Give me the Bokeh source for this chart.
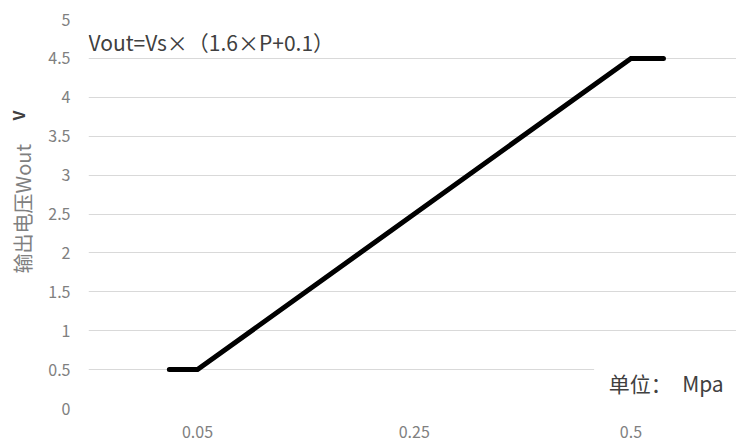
from bokeh.plotting import figure
from bokeh.layouts import row
from bokeh.models import Range1d, FixedTicker, Label, BoxAnnotation
from bokeh.embed import file_html
from bokeh.resources import INLINE

# Data
category_labels = ["0.05", "0.25", "0.5"]
category_pos = [1, 2, 3]
pressure_pos = [0.87, 1.0, 3.0, 3.15]   # position along categorical pressure axis
vout = [0.5, 0.5, 4.5, 4.5]
y_ticks = [0, 0.5, 1, 1.5, 2, 2.5, 3, 3.5, 4, 4.5, 5]

FONT = "Noto Sans CJK SC"
SIDE_W = 40

# narrow strip holding the rotated y-axis title
side = figure(width=SIDE_W, height=442, output_backend="svg", toolbar_location=None,
              x_range=Range1d(0, SIDE_W), y_range=Range1d(0, 442),
              x_axis_type=None, y_axis_type=None, min_border=0)
side.outline_line_color = None
side.grid.grid_line_color = None
side.background_fill_color = "white"
side.border_fill_color = "white"
side.add_layout(Label(x=22, y=227, text="输出电压Wout", text_font=FONT,
                      text_font_size="20px", text_color="#808080", angle=1.5708,
                      text_align="center", text_baseline="middle"))
side.add_layout(Label(x=17, y=333, text="V", text_font=FONT,
                      text_font_size="16px", text_font_style="bold", text_color="#404040",
                      angle=1.5708, text_align="center", text_baseline="middle"))

p = figure(width=736 - SIDE_W, height=442, output_backend="svg", toolbar_location=None,
           x_range=Range1d(0.497, 3.487), y_range=Range1d(0, 5),
           min_border_left=88 - SIDE_W, min_border_right=0, min_border_top=19, min_border_bottom=34)
p.outline_line_color = None
p.background_fill_color = "white"
p.border_fill_color = "white"

p.line(pressure_pos, vout, line_color="black", line_width=5, line_cap="round", line_join="miter")

# axes
p.xaxis.ticker = FixedTicker(ticks=category_pos)
p.xaxis.major_label_overrides = {c: l for c, l in zip(category_pos, category_labels)}
p.yaxis.ticker = FixedTicker(ticks=y_ticks)
p.yaxis.major_label_overrides = {t: (str(int(t)) if float(t).is_integer() else str(t)) for t in y_ticks}
for ax in (p.xaxis[0], p.yaxis[0]):
    ax.axis_line_color = None
    ax.major_tick_line_color = None
    ax.minor_tick_line_color = None
    ax.major_label_text_color = "#808080"
    ax.major_label_text_font = FONT
    ax.major_label_text_font_size = "16px"
p.xaxis.major_label_standoff = 11
p.yaxis.major_label_standoff = 12

p.xgrid.grid_line_color = None
p.ygrid.ticker = FixedTicker(ticks=y_ticks)
p.ygrid.grid_line_color = "#d9d9d9"
p.ygrid.grid_line_width = 1.2

# white boxes behind text boxes
p.add_layout(BoxAnnotation(left=0.497, right=1.63, bottom=4.85, top=5.05,
                           fill_color="white", fill_alpha=1, line_color=None))
p.add_layout(BoxAnnotation(left=2.83, right=3.5, bottom=-0.05, top=0.75,
                           fill_color="white", fill_alpha=1, line_color=None))

p.add_layout(Label(x=0.497, y=4.713, text="Vout=Vs×（1.6×P+0.1）", text_font=FONT,
                   text_font_size="21px", text_color="#404040",
                   text_align="left", text_baseline="middle"))
p.add_layout(Label(x=2.897, y=0.33, text="单位：\u2002Mpa", text_font=FONT,
                   text_font_size="21px", text_color="#404040",
                   text_align="left", text_baseline="middle"))

layout = row(side, p, spacing=0)
open("out.html", "w").write(file_html(layout, INLINE))
